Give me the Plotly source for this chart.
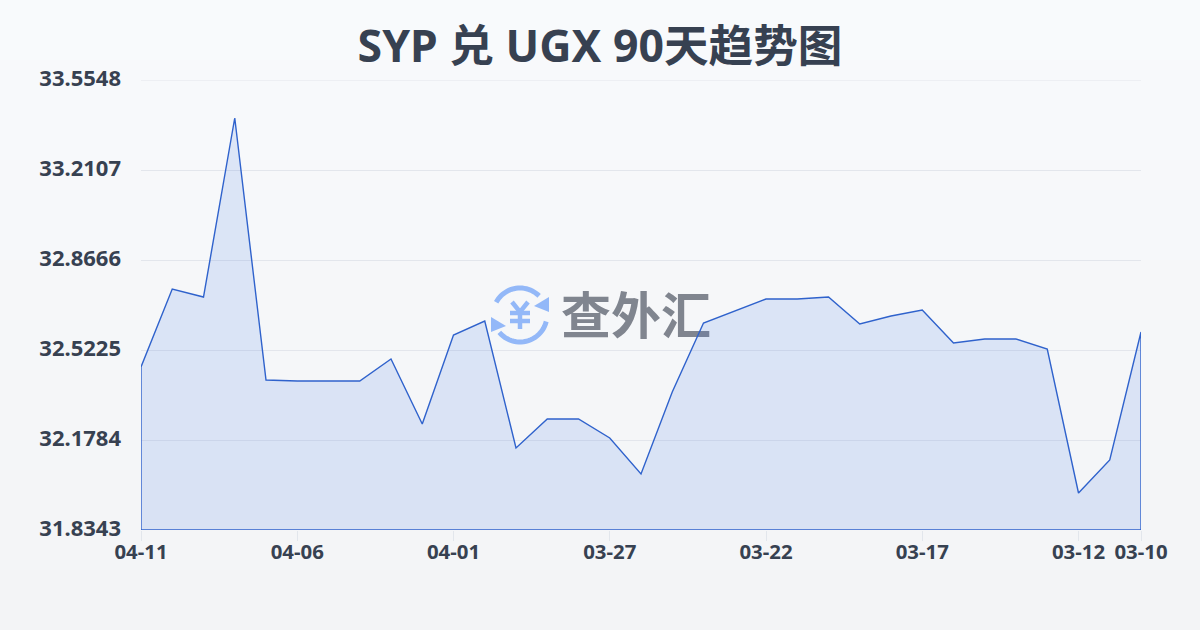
import math
import plotly.graph_objects as go

dates = ["04-11","04-10","04-09","04-08","04-07","04-06","04-05","04-04","04-03","04-02","04-01",
         "03-31","03-30","03-29","03-28","03-27","03-26","03-25","03-24","03-23","03-22","03-21",
         "03-20","03-19","03-18","03-17","03-16","03-15","03-14","03-13","03-12","03-11","03-10"]
rates = [32.4575,32.7557,32.7251,33.4095,32.4078,32.4040,32.4040,32.4040,32.4881,32.2396,32.5799,
         32.6334,32.1478,32.2587,32.2587,32.1861,32.0484,32.3619,32.6257,32.6716,32.7175,32.7175,
         32.7251,32.6219,32.6525,32.6754,32.5493,32.5646,32.5646,32.5263,31.9758,32.1019,32.5913]
y_ticks = [31.8343,32.1784,32.5225,32.8666,33.2107,33.5548]
x_tick_labels = ["04-11","04-06","04-01","03-27","03-22","03-17","03-12","03-10"]
title_text = "SYP 兑 UGX 90天趋势图"
watermark_text = "查外汇"

L, T, W, H = 141, 80, 1000, 450
FONT = "'Noto Sans','Noto Sans CJK SC',sans-serif"
INK = "#374151"
BLUE = "#2f62cc"
ICON = "#93b8f8"
GRID = "#e3e6ec"

def px(x): return (x - L) / W
def py(y): return (T + H - y) / H
def P(x, y): return f"{px(x):.5f},{py(y):.5f}"

def arc(cx, cy, r, a0, a1, n=24):
    pts = []
    for i in range(n + 1):
        a = math.radians(a0 + (a1 - a0) * i / n)
        pts.append((cx + r * math.cos(a), cy - r * math.sin(a)))
    return "M" + " L".join(P(*p) for p in pts)

def poly(points):
    return "M" + " L".join(P(*p) for p in points) + " Z"

xs = list(range(len(dates)))
tickvals = [dates.index(d) for d in x_tick_labels]

shapes = []
steps = 63
for i in range(steps):
    t = i / (steps - 1)
    c = [round(a + (b - a) * t) for a, b in zip((248, 250, 252), (243, 244, 246))]
    shapes.append(dict(type="rect", xref="paper", yref="paper", layer="below",
                       x0=px(0), x1=px(1200), y0=py(i * 10), y1=py((i + 1) * 10 + 1),
                       line_width=0, fillcolor=f"rgb({c[0]},{c[1]},{c[2]})"))

shapes.append(dict(type="line", xref="paper", yref="y", layer="below", x0=0, x1=1,
                   y0=y_ticks[-1], y1=y_ticks[-1], line=dict(color=GRID, width=1)))

cx, cy, r = 520, 315, 27
icon_line = dict(color=ICON, width=5)
for a0, a1 in [(152, 45), (-14, -140)]:
    shapes.append(dict(type="path", xref="paper", yref="paper", layer="below",
                       path=arc(cx, cy, r, a0, a1), line=icon_line))
shapes.append(dict(type="path", xref="paper", yref="paper", layer="below", line_width=0, fillcolor=ICON,
                   path=poly([(549, 297), (549, 312), (534, 306)])))
shapes.append(dict(type="path", xref="paper", yref="paper", layer="below", line_width=0, fillcolor=ICON,
                   path=poly([(491, 317), (491, 332), (506, 326)])))
yen_line = dict(color=ICON, width=4.5)
for seg in [[(512, 302), (520, 312), (528, 302)], [(520, 312), (520, 329)],
            [(510, 313), (530, 313)], [(510, 321), (530, 321)]]:
    shapes.append(dict(type="path", xref="paper", yref="paper", layer="below",
                       path="M" + " L".join(P(*p) for p in seg), line=yen_line))

fig = go.Figure()
fig.add_trace(go.Scatter(
    x=[(636 - L) / (W / (len(dates) - 1))], y=[32.63],
    mode="text", text=[watermark_text], textposition="middle center",
    textfont=dict(family="'Noto Sans CJK SC'", size=50, color="#80858f", weight="bold"),
    hoverinfo="skip", showlegend=False))
fig.add_trace(go.Scatter(
    x=xs + [xs[-1], xs[0], xs[0]],
    y=rates + [y_ticks[0], y_ticks[0], rates[0]],
    mode="lines", fill="toself", fillcolor="rgba(59,114,224,0.145)", cliponaxis=False,
    line=dict(color=BLUE, width=1.4), hoverinfo="skip", showlegend=False))

fig.update_layout(
    width=1200, height=630, autosize=False,
    margin=dict(l=L, r=1200 - L - W, t=T, b=630 - T - H),
    paper_bgcolor="#f5f7f9", plot_bgcolor="rgba(0,0,0,0)",
    shapes=shapes,
    font=dict(family=FONT, color=INK),
    title=dict(text=title_text, x=0.5, xanchor="center", y=1 - 46 / 630, yanchor="middle",
               font=dict(family=FONT, size=44.6, color="#374151", weight="bold")),
    xaxis=dict(range=[0, len(dates) - 1], tickmode="array", tickvals=tickvals, ticktext=x_tick_labels,
               showgrid=False, zeroline=False, showline=False,
               ticks="outside", ticklen=10, tickwidth=1, tickcolor="#e2e6ec", ticklabelstandoff=-6,
               tickfont=dict(family=FONT, size=20.4, color=INK, weight="bold")),
    yaxis=dict(range=[y_ticks[0], y_ticks[-1]], tickmode="array", tickvals=y_ticks,
               ticktext=[f"{v:.4f}" for v in y_ticks],
               showgrid=True, gridcolor=GRID, gridwidth=1, zeroline=False, showline=False,
               ticks="", ticklabelstandoff=19, ticklabelshift=-2,
               tickfont=dict(family=FONT, size=22, color=INK, weight="bold")),
)
fig.write_html("out.html", config=dict(displayModeBar=False),
               post_script="document.body.style.margin='0';document.documentElement.style.margin='0';")
